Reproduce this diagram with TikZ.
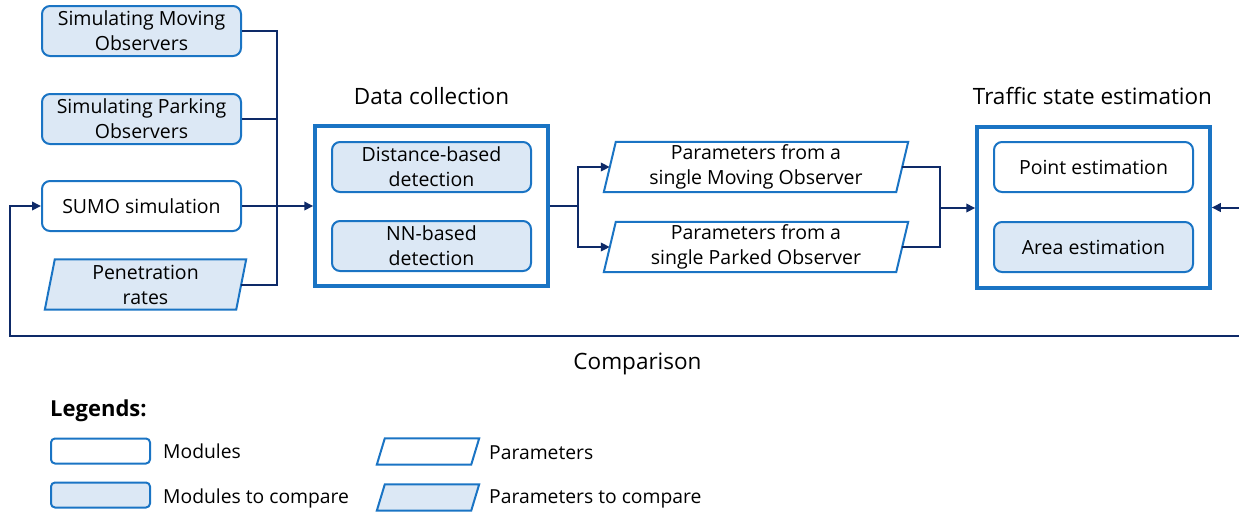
\documentclass[tikz,border=0pt]{standalone}
\usepackage{fontspec}
\setmainfont{Open Sans}
\usetikzlibrary{arrows.meta,backgrounds,calc}
\definecolor{bblue}{HTML}{1A74C4}
\definecolor{lfill}{HTML}{DCE8F5}
\definecolor{navy}{HTML}{0E2A68}
\newcommand\bodyf{\fontsize{19.5}{25}\selectfont}
\newcommand\titlef{\fontsize{22.5}{26}\selectfont}
\newcommand\legf{\fontsize{19.3}{22}\selectfont}
\newcommand\drawpara[3]{\filldraw[draw=bblue,line width=2pt,fill=#3,line join=miter] ([xshift=-#2pt]#1.south west) -- ([xshift=-#2pt]#1.south east) -- ([xshift=#2pt]#1.north east) -- ([xshift=#2pt]#1.north west) -- cycle;}
\tikzset{
  module/.style={draw=bblue, line width=2pt, rounded corners=8pt, minimum width=199pt, minimum height=50pt, align=center, font=\bodyf, fill=white, inner sep=0pt},
  cmp/.style={module, fill=lfill},
  para/.style={minimum height=50pt, align=center, font=\bodyf, inner sep=0pt},
  outer/.style={draw=bblue, line width=3.5pt, minimum width=233pt, minimum height=160pt, inner sep=0pt},
  conn/.style={draw=navy, line width=2pt},
  arr/.style={conn, -{Triangle[length=9pt,width=8.5pt]}},
  title/.style={font=\titlef, inner sep=0pt},
  legbox/.style={draw=bblue, line width=2pt, rounded corners=4pt, minimum width=99pt, minimum height=25pt, inner sep=0pt},
  legtext/.style={font=\legf, anchor=west, inner sep=0pt},
}
\begin{document}
\begin{tikzpicture}[x=1pt,y=-1pt]
\useasboundingbox (0,0) rectangle (1239,512);
% left modules
\node[cmp] (smo) at (141.5,31) {Simulating Moving\\Observers};
\node[cmp] (spo) at (141.5,119) {Simulating Parking\\Observers};
\node[module] (sumo) at (141.5,206) {SUMO simulation};
\node[para, minimum width=191pt] (pen) at (145.5,284.5) {Penetration\\rates};
% data collection
\node[outer] (dc) at (431.5,206) {};
\node[title] (dct) at (431.5,96) {Data collection};
\node[cmp] (dist) at (431.5,167) {Distance-based\\detection};
\node[cmp] (nn) at (431.5,246) {NN-based\\detection};
% parameters
\node[para, minimum width=292pt] (p1) at (756,167) {Parameters from a\\single Moving Observer};
\node[para, minimum width=292pt] (p2) at (756,247) {Parameters from a\\single Parked Observer};
% traffic state estimation
\node[outer, minimum height=161pt] (tse) at (1093.5,207.5) {};
\node[title] (tset) at (1092.5,96) {Traffic state estimation};
\node[module] (pe) at (1093.5,167) {Point estimation};
\node[cmp] (ae) at (1093.5,247) {Area estimation};
% comparison label
\node[title] (cmpl) at (637.5,363.5) {Comparison};
% legend
\node[font=\bfseries\fontsize{22}{26}\selectfont, anchor=west, inner sep=0pt] (legt) at (50,411) {Legends:};
\node[legbox] (lm) at (100.5,451) {};
\node[legbox, fill=lfill] (lmc) at (100.5,495) {};
\node[legtext] (lmt) at (163,451) {Modules};
\node[legtext] (lmct) at (163,498) {Modules to compare};
\node[inner sep=0pt, minimum width=94pt, minimum height=26pt] (lp) at (428,451.5) {};
\node[inner sep=0pt, minimum width=94pt, minimum height=26pt] (lpc) at (428,497.5) {};
\node[legtext] (lpt) at (489,452.5) {Parameters};
\node[legtext] (lpct) at (489,499) {Parameters to compare};
\begin{scope}[on background layer]
\drawpara{pen}{5}{lfill}
\drawpara{p1}{6}{white}
\drawpara{p2}{6}{white}
\drawpara{lp}{4}{white}
\drawpara{lpc}{4}{lfill}
\end{scope}
% connectors
\coordinate (j1) at (277,206);
\coordinate (j2) at (578,206);
\coordinate (j3) at (940,208);
\coordinate (rin) at (1239,207.5);
\coordinate (cr) at (1239,336);
\coordinate (cl) at (10,336);
\draw[conn] (smo.east) -| (j1);
\draw[conn] (spo.east) -| (j1);
\draw[conn] (pen.east) -| (j1);
\draw[arr] (sumo.east) -- (dc.west);
\draw[conn] (dc.east) -- (j2);
\draw[arr] (j2) |- (p1.west);
\draw[arr] (j2) |- (p2.west);
\draw[conn] (p1.east) -| (j3);
\draw[conn] (p2.east) -| (j3);
\draw[arr] (j3) -- (j3 -| tse.west);
\draw[arr] (rin) -- (tse.east);
\draw[arr] (cr) -- (cl) |- (sumo.west);
\end{tikzpicture}
\end{document}
